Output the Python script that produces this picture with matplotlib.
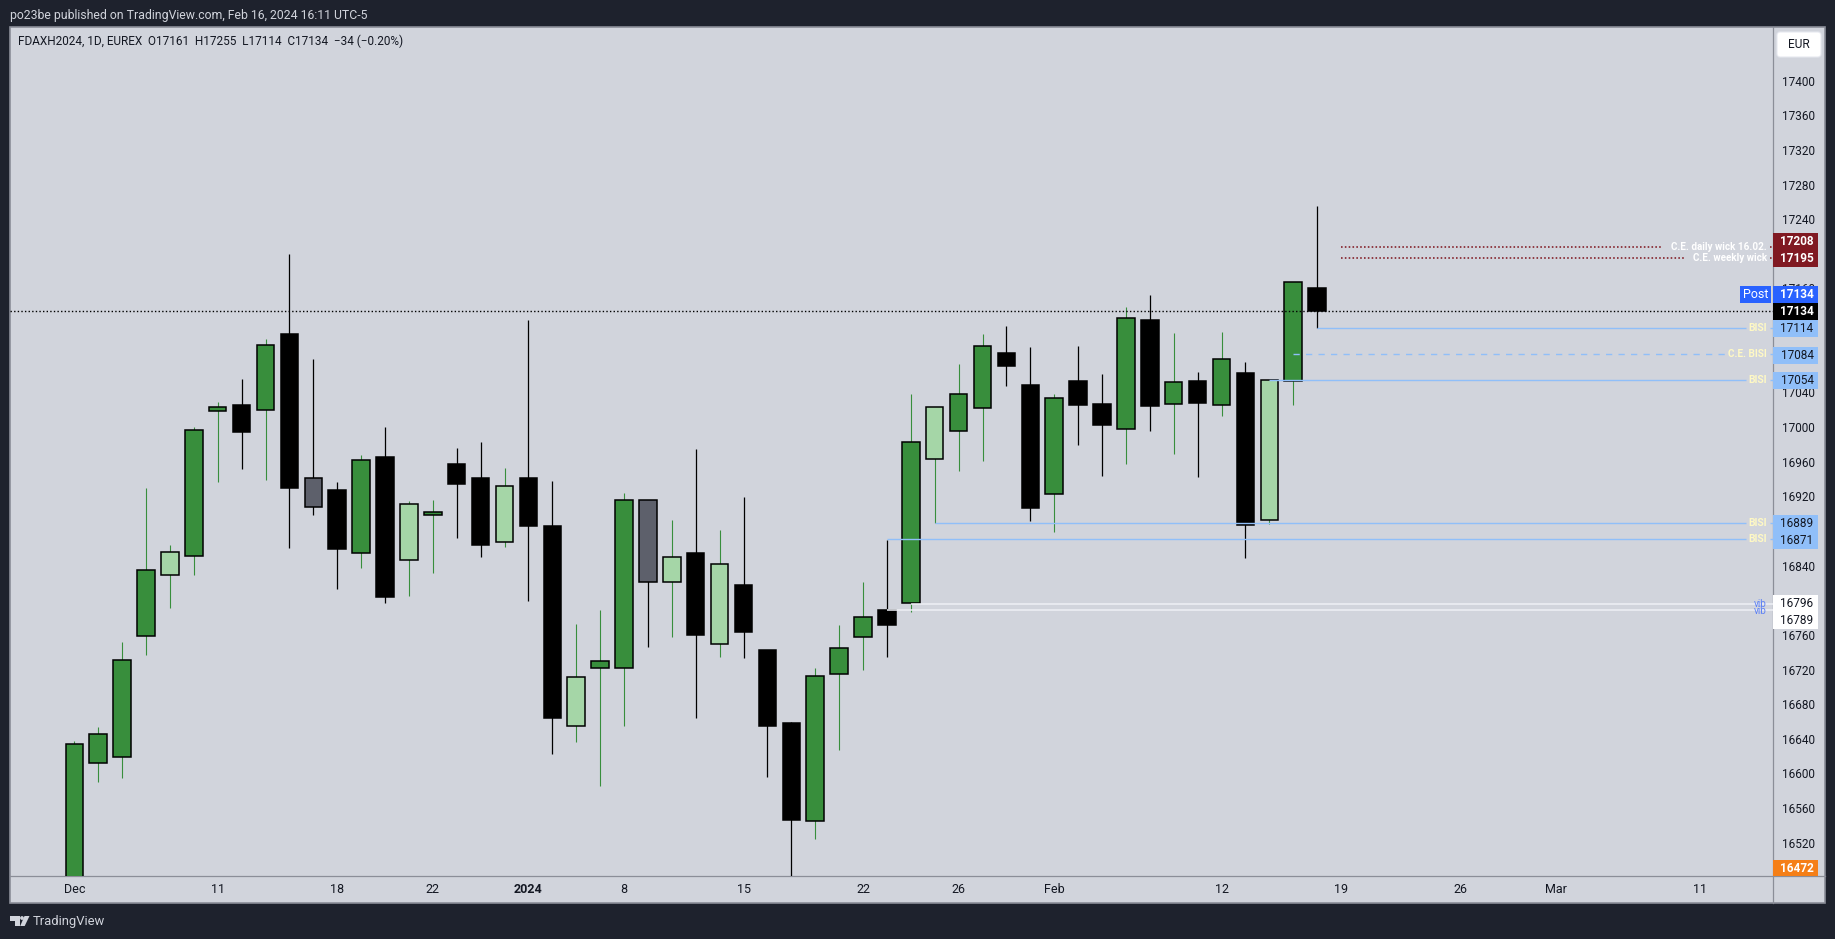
import matplotlib
matplotlib.use('Agg')
import matplotlib.pyplot as plt
from matplotlib.patches import Rectangle, FancyBboxPatch, Polygon, Circle

plt.rcParams['font.family'] = ['Roboto', 'DejaVu Sans']

# daily candles, Dec 2023 - Feb 2024
opens = [16400, 16612, 16619, 16759, 16829, 16851, 17018, 17025, 17020, 17107, 16908, 16927, 16854, 16965,
         16846, 16899, 16957, 16941, 16867, 16941, 16886, 16655, 16722, 16722, 16916, 16821, 16855, 16750,
         16818, 16743, 16658, 16545, 16715, 16757, 16789, 16797, 16963, 16996, 17022, 17086, 17049, 16923,
         17053, 17027, 16998, 17124, 17027, 17053, 17025, 17062, 16893, 17053, 17161]
highs = [16637, 16654, 16752, 16930, 16864, 17000, 17029, 17056, 17102, 17200, 17079, 16937, 16968, 17000,
         16915, 16916, 16976, 16983, 16953, 17124, 16938, 16772, 16789, 16924, 16916, 16893, 16975, 16881,
         16919, 16743, 16659, 16722, 16771, 16821, 16870, 17038, 17023, 17073, 17107, 17117, 17093, 17038,
         17094, 17061, 17139, 17153, 17109, 17064, 17110, 17075, 17054, 17168, 17255]
lows = [16380, 16590, 16595, 16737, 16791, 16829, 16937, 16952, 16939, 16860, 16899, 16813, 16837, 16797,
        16805, 16831, 16872, 16850, 16862, 16799, 16623, 16636, 16585, 16655, 16746, 16757, 16664, 16734,
        16733, 16596, 16472, 16524, 16627, 16719, 16734, 16786, 16889, 16949, 16961, 17047, 16891, 16879,
        16979, 16943, 16957, 16996, 16969, 16942, 17013, 16849, 16888, 17025, 17114]
closes = [16634, 16645, 16731, 16835, 16856, 16997, 17023, 16994, 17095, 16930, 16941, 16859, 16962, 16804,
          16911, 16902, 16934, 16864, 16932, 16886, 16664, 16711, 16730, 16916, 16821, 16850, 16760, 16842,
          16763, 16655, 16546, 16713, 16745, 16781, 16771, 16983, 17023, 17038, 17094, 17070, 16906, 17034,
          17025, 17002, 17126, 17024, 17052, 17028, 17078, 16887, 17054, 17168, 17134]
light_candles = [4, 14, 18, 21, 25, 27, 36, 50]
gray_candles = [10, 24]

# ticks that the price tags cover completely are left out
price_ticks = [17400, 17360, 17320, 17280, 17240, 17160, 17040, 17000, 16960, 16920,
               16840, 16760, 16720, 16680, 16640, 16600, 16560, 16520]
date_ticks = [0, 6, 11, 15, 19, 23, 28, 33, 37, 41, 48, 53, 58, 62, 68]
date_labels = ['Dec', '11', '18', '22', '2024', '8', '15', '22', '26', 'Feb', '12', '19', '26', 'Mar', '11']

last_price = 17134
bisi_levels = [17114, 17054, 16889, 16871]
bisi_starts = [52, 50, 36, 34]
ce_bisi_level = 17084
vib_levels = [16796, 16789]
vib_starts = [35, 34]
wick_levels = [17208, 17195]
wick_labels = ['C.E. daily wick 16.02.', 'C.E. weekly wick']

BG = '#d1d4dc'
DARK = '#1e222d'
EDGE = '#8b8e98'
GREEN = '#388e3c'
LIGHT = '#a5d6a7'
GRAY = '#5d606b'
BLUE = '#90bff9'
RED = '#801922'
PALE = '#fff9c4'
INK = '#131722'

W, H = 1835, 939
BAR0, BAR_STEP = 74.3, 23.9   # pixel x of the first candle, pixels per candle
Y_REF, PX_PER_POINT = 311.0, 0.866


def idx_at(px):
    return (px - BAR0) / BAR_STEP


fig = plt.figure(figsize=(W / 100, H / 100), dpi=100, facecolor=DARK)

# page furniture, in pixels
base = fig.add_axes([0, 0, 1, 1], zorder=0)
base.set_xlim(0, W)
base.set_ylim(H, 0)
base.axis('off')
base.add_patch(Rectangle((10, 27), 1815, 876, facecolor=BG, edgecolor=EDGE, linewidth=1.2))
base.plot([1773, 1773], [27, 903], color=EDGE, lw=0.9)
base.plot([10, 1825], [876, 876], color=EDGE, lw=0.9)
base.text(10, 15, 'po23be published on TradingView.com, Feb 16, 2024 16:11 UTC-5', color=BG,
          fontsize=8.8, va='center')
base.text(33, 921.5, 'TradingView', color=BG, fontsize=9.4, va='center')
base.add_patch(Polygon([(10, 916), (19.5, 916), (19.5, 926), (15, 926), (15, 920.5), (10, 920.5)], color=BG, lw=0))
base.add_patch(Circle((22, 918), 1.9, color=BG, lw=0))
base.add_patch(Polygon([(24.5, 916), (29.5, 916), (24.7, 926), (20.2, 926)], color=BG, lw=0))
base.text(18, 41.5, 'FDAXH2024, 1D, EUREX  O17161  H17255  L17114  C17134  \u221234 (\u22120.20%)', color=INK,
          fontsize=8.5, va='center')

ax = fig.add_axes([10 / W, (H - 876) / H, (1773 - 10) / W, (876 - 27) / H], zorder=1)
ax.patch.set_alpha(0)
ax.set_xlim(idx_at(10), idx_at(1773))
ax.set_ylim(last_price - (876 - Y_REF) / PX_PER_POINT, last_price + (Y_REF - 27) / PX_PER_POINT)
for spine in ax.spines.values():
    spine.set_visible(False)

# candles
for i in range(len(opens)):
    up = closes[i] > opens[i]
    if i in light_candles:
        body = LIGHT
    elif i in gray_candles:
        body = GRAY
    elif up:
        body = GREEN
    else:
        body = 'black'
    wick = GREEN if (up or i in light_candles) and i not in gray_candles else 'black'
    ax.vlines(i, lows[i], highs[i], color=wick, lw=0.8 if wick == GREEN else 0.9, zorder=2)
    bottom = min(opens[i], closes[i])
    ax.bar(i, abs(closes[i] - opens[i]), bottom=bottom, width=0.73, color=body, edgecolor='black',
           linewidth=1.1, zorder=3)

# level lines
ax.axhline(last_price, color='black', lw=1.0, ls=(0, (1, 1.6)), zorder=4)
for level, start in zip(bisi_levels, bisi_starts):
    ax.hlines(level, start, idx_at(1745.8), color=BLUE, lw=1.0, zorder=4)
    ax.hlines(level, idx_at(1769.5), idx_at(1773), color=BLUE, lw=1.0, zorder=4)
    ax.text(idx_at(1767), level, 'BISI', color=PALE, fontsize=7.4, fontweight='bold', ha='right',
            va='center', zorder=5)
ax.hlines(ce_bisi_level, 51, idx_at(1728), color=BLUE, lw=1.0, ls=(0, (4.5, 4.5)), zorder=4)
ax.hlines(ce_bisi_level, idx_at(1769.5), idx_at(1773), color=BLUE, lw=1.0, zorder=4)
ax.text(idx_at(1767), ce_bisi_level, 'C.E. BISI', color=PALE, fontsize=7.2, fontweight='bold', ha='right',
        va='center', zorder=5)
for level, start in zip(vib_levels, vib_starts):
    ax.hlines(level, start, idx_at(1773), color='#eef0f6', lw=1.1, zorder=4)
ax.text(idx_at(1767), vib_levels[0], 'vib', color='#5f82f5', fontsize=7.2, ha='right', va='center', zorder=5)
ax.text(idx_at(1767), vib_levels[1] - 1, 'vib', color='#5f82f5', fontsize=7.2, ha='right', va='center', zorder=5)
for level, label, end in zip(wick_levels, wick_labels, [1661.5, 1685]):
    ax.hlines(level, 53, idx_at(end), color=RED, lw=1.15, ls=(0, (1, 1.4)), zorder=4)
    ax.hlines(level, idx_at(1769.5), idx_at(1773), color=RED, lw=1.15, ls=(0, (1, 1.4)), zorder=4)
    ax.text(idx_at(1767), level, label, color='white', fontsize=7.1, fontweight='bold', ha='right',
            va='center', zorder=5)

# axes ticks
ax.yaxis.tick_right()
ax.set_yticks(price_ticks)
ax.set_yticklabels([str(p) for p in price_ticks], color=INK, fontsize=8.5)
ax.tick_params(axis='y', length=0, pad=6.6)
ax.set_xticks(date_ticks)
ax.set_xticklabels(date_labels, color=INK, fontsize=9)
ax.tick_params(axis='x', length=0, pad=5.2)
ax.get_xticklabels()[4].set_fontweight('bold')

# price tags over the axis
tags = fig.add_axes([0, 0, 1, 1], zorder=3)
tags.set_xlim(0, W)
tags.set_ylim(H, 0)
tags.axis('off')
tag_boxes = [
    ('17208', 232.7, 250.7, RED, 'white'),
    ('17195', 250.7, 267, RED, 'white'),
    ('17134', 286, 302.7, '#2962ff', 'white'),
    ('17134', 303, 320, 'black', 'white'),
    ('17114', 320, 336.7, BLUE, INK),
    ('17084', 347, 364, BLUE, INK),
    ('17054', 372, 388.7, BLUE, INK),
    ('16889', 515, 532, BLUE, INK),
    ('16871', 532, 548.7, BLUE, INK),
    ('16796', 595, 612, 'white', INK),
    ('16789', 612, 629, 'white', INK),
    ('16472', 860, 876, '#f57f17', 'white'),
]
for label, top, bottom, face, text_color in tag_boxes:
    tags.add_patch(Rectangle((1773, top), 45, bottom - top, facecolor=face, edgecolor='none'))
    tags.text(1797, (top + bottom) / 2, label, color=text_color, fontsize=8.5,
              fontweight='bold' if text_color == 'white' else 'normal', ha='center', va='center')
tags.add_patch(Rectangle((1740, 286), 31, 16.7, facecolor='#2962ff', edgecolor='none'))
tags.text(1755.5, 294.3, 'Post', color='white', fontsize=9, ha='center', va='center')
tags.add_patch(FancyBboxPatch((1779, 34), 40, 21, boxstyle='round,pad=2,rounding_size=3', facecolor='white',
                              edgecolor='#e6e8ef', linewidth=0.8))
tags.text(1799, 44.5, 'EUR', color=INK, fontsize=8.6, ha='center', va='center')

plt.savefig('out.png', dpi=100, facecolor=DARK)
